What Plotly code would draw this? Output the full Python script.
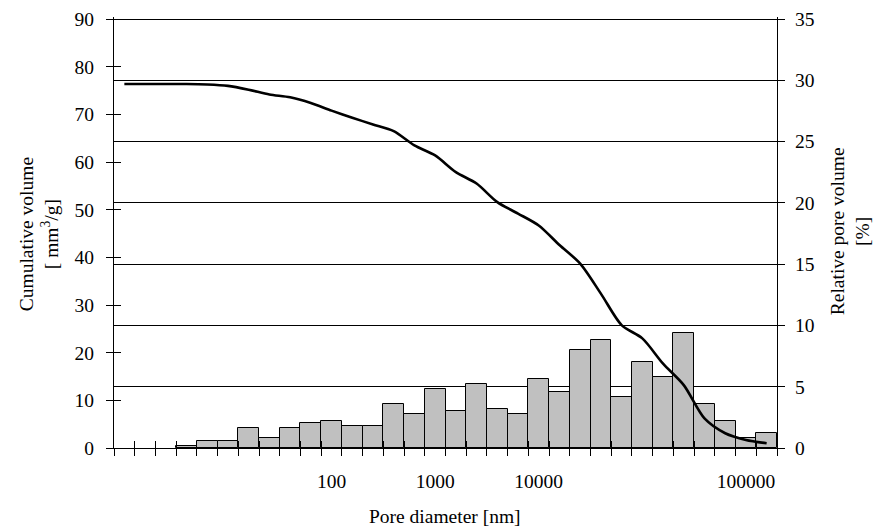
import plotly.graph_objects as go

# bin index (categories of pore diameter classes)
bins = list(range(32))
# relative pore volume [%] per bin (right axis)
relative_volume = [None, None, None, 0.2, 0.6, 0.6, 1.6, 0.8, 1.6, 2.0, 2.2, 1.8, 1.8, 3.6,
                   2.8, 4.8, 3.0, 5.2, 3.2, 2.8, 5.6, 4.6, 8.0, 8.8, 4.2, 7.0, 5.8, 9.4,
                   3.6, 2.2, 0.8, 1.2]
# cumulative volume [mm3/g] (left axis)
cumulative_volume = [76.4, 76.4, 76.4, 76.4, 76.3, 76.0, 75.2, 74.2, 73.6, 72.4, 70.8, 69.3,
                     67.9, 66.5, 63.5, 61.4, 57.9, 55.5, 51.6, 49.2, 46.7, 42.6, 38.7, 32.4,
                     25.8, 23.0, 17.7, 13.2, 6.2, 3.1, 1.7, 1.0]
# tick labels
tick_bins = [10, 15, 20, 30]
tick_labels = ["100", "1000", "10000", "100000"]
boundaries = [b - 0.5 for b in bins] + [bins[-1] + 0.5]

FONT = dict(family="Liberation Serif", size=19.5, color="black")

fig = go.Figure()
fig.add_trace(go.Bar(x=bins, y=relative_volume, xaxis="x", yaxis="y",
                     marker=dict(color="#c0c0c0", line=dict(color="black", width=1)),
                     width=1.0, showlegend=False, hoverinfo="skip"))
fig.add_trace(go.Scatter(x=bins, y=cumulative_volume, xaxis="x", yaxis="y2",
                         mode="lines", line=dict(color="black", width=2.6, shape="spline", smoothing=0.8),
                         showlegend=False))
# empty helper traces so that the tick-only overlay axes get drawn
fig.add_trace(go.Scatter(x=[None], y=[None], xaxis="x2", yaxis="y3", mode="lines",
                         showlegend=False, hoverinfo="skip"))
fig.add_trace(go.Scatter(x=[None], y=[None], xaxis="x3", yaxis="y4", mode="lines",
                         showlegend=False, hoverinfo="skip"))

L, R, T, B = 114, 98, 16.5, 84
W, H = 875, 532
pw = W - L - R
ph = H - T - B
xr = [-0.5, 31.5]
ext = 1.005  # small headroom so the top gridline (35 / 90) is drawn
r_right = [0, 35 * ext]
r_left = [0, 90 * ext]

fig.update_layout(
    width=W, height=H,
    margin=dict(l=L, r=R, t=T, b=B, pad=0, autoexpand=False),
    paper_bgcolor="white", plot_bgcolor="white",
    font=FONT,
    bargap=0,
    xaxis=dict(range=xr, tickmode="array", tickvals=tick_bins, ticktext=tick_labels,
               ticks="", showline=True, linecolor="black", linewidth=1, showgrid=False,
               zeroline=False, anchor="y", ticklabelstandoff=16, automargin=False),
    xaxis2=dict(range=xr, overlaying="x", anchor="y", tickmode="array", tickvals=boundaries,
                showticklabels=False, ticks="outside", ticklen=7, tickcolor="black",
                showline=False, showgrid=False, zeroline=False, side="bottom"),
    xaxis3=dict(range=xr, overlaying="x", anchor="y", tickmode="array", tickvals=boundaries,
                showticklabels=False, ticks="inside", ticklen=7, tickcolor="black",
                showline=False, showgrid=False, zeroline=False, side="bottom"),
    yaxis=dict(range=r_right, tick0=0, dtick=5, side="right", showgrid=True, gridcolor="black",
               gridwidth=1, showline=True, linecolor="black", linewidth=1,
               ticks="outside", ticklen=7, tickcolor="black", zeroline=False,
               anchor="x", ticklabelstandoff=6, automargin=False),
    yaxis2=dict(range=r_left, tick0=0, dtick=10, side="left", overlaying="y", showgrid=False,
                showline=True, linecolor="black", linewidth=1, ticks="outside", ticklen=7,
                tickcolor="black", zeroline=False, anchor="x", ticklabelstandoff=8,
                automargin=False),
    yaxis3=dict(range=r_right, tick0=0, dtick=5, side="right", overlaying="y", showgrid=False,
                showticklabels=False, ticks="inside", ticklen=7, tickcolor="black",
                zeroline=False, anchor="x"),
    yaxis4=dict(range=r_left, tick0=0, dtick=10, side="left", overlaying="y", showgrid=False,
                showticklabels=False, ticks="inside", ticklen=7, tickcolor="black",
                zeroline=False, anchor="x"),
)

def px_x(p):
    return (p - L) / pw

def px_y(p):
    return 1 - (p - T) / ph

fig.add_annotation(text="Cumulative volume<br>[ mm<sup>3</sup>/g]", textangle=-90,
                   xref="paper", yref="paper", x=px_x(39), y=px_y(234),
                   xanchor="center", yanchor="middle", showarrow=False, font=FONT)
fig.add_annotation(text="Relative pore volume<br>[%]", textangle=-90,
                   xref="paper", yref="paper", x=px_x(850), y=px_y(231),
                   xanchor="center", yanchor="middle", showarrow=False, font=FONT)
fig.add_annotation(text="Pore diameter [nm]",
                   xref="paper", yref="paper", x=px_x(445), y=px_y(517),
                   xanchor="center", yanchor="middle", showarrow=False, font=FONT)

fig.write_html("out.html", config={"displayModeBar": False},
               post_script="document.body.style.margin='0';")
